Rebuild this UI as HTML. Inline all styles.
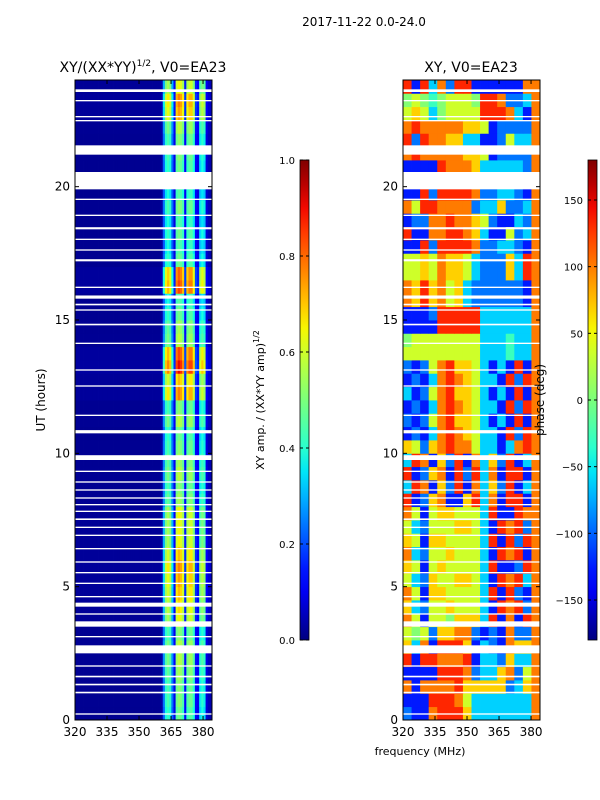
<!DOCTYPE html>
<html><head><meta charset="utf-8">
<style>
body{margin:0;background:#fff;}
svg{display:block;font-family:"DejaVu Sans","Liberation Sans",sans-serif;}
</style></head>
<body>
<svg id="fig" width="600" height="800" viewBox="0 0 600 800" xmlns="http://www.w3.org/2000/svg">
<defs>
<linearGradient id="jetv" x1="0" y1="1" x2="0" y2="0"></linearGradient>
</defs>
<text x="364" y="26" font-size="12" text-anchor="middle">2017-11-22 0.0-24.0</text>
<text x="143" y="72" font-size="14" text-anchor="middle">XY/(XX*YY)<tspan font-size="9" dy="-6">1/2</tspan><tspan dy="6">, V0=EA23</tspan></text>
<text x="471" y="72" font-size="14" text-anchor="middle">XY, V0=EA23</text>
<g id="leftPanel"></g>
<g id="rightPanel"></g>
<g id="axes"></g>
<text transform="translate(45,400) rotate(-90)" font-size="12" text-anchor="middle">UT (hours)</text>
<text x="420" y="755" font-size="11" text-anchor="middle">frequency (MHz)</text>
<text transform="translate(264,400) rotate(-90)" font-size="11" text-anchor="middle">XY amp. / (XX*YY amp)<tspan font-size="8" dy="-5">1/2</tspan></text>
<text transform="translate(544,400) rotate(-90)" font-size="12" text-anchor="middle">phase (deg)</text>
</svg>
<script>
// ---- data ----
const ampColProfile = [
0.02,0.02,0.02,0.02,0.02,0.02,0.02,0.02,0.02,0.02,
0.02,0.02,0.02,0.02,0.02,0.02,0.02,0.02,0.02,0.02,
0.02,0.02,0.02,0.02,0.02,0.02,0.02,0.02,0.02,0.02,
0.02,0.02,0.02,0.02,0.02,0.02,0.02,0.02,0.02,0.02,
0.04,0.3,0.5,0.55,0.5,0.3,0.12,0.6,0.65,0.62,
0.55,0.15,0.55,0.6,0.6,0.5,0.15,0.12,0.45,0.5,
0.45,0.1,0.06,0.05];
const ampRowGain = [
0.75,0.8,0.8,0.85,0.9,0.9,0.8,1.0,1.05,1.1,
1.15,1.2,1.1,1.0,1.0,1.0,0.85,0.8,0.9,0.85,
0.8,0.75,0.9,0.8,1.2,1.1,1.4,1.3,0.9,0.85,
0.75,0.7,1.3,1.25,0.75,0.7,0.75,0.7,0.8,0.7,
0.7,0.75,0.8,0.8,0.9,1.15,1.2,1.0];
const phaseRows = [
"2118999733333338","1119998633333338","8188889777772378","1111999823378268",
"9199888913327338","7381999713218778","6562778821218228","8616657773918198",
"7326676663198928","8617766663919218","6327667763198938","7616766663911298",
"8326676663198918","7617766663919298","6326667763198928","8616776663911988",
"9127811793819918","3981729183729138","9127819293819918","3981729183729138",
"7627898863313898","1213898763319298","2126897763131918","1213898763319298",
"3126897763131918","1213898763319298","2126897763131918","6666666663334338",
"5666666663334338","1111999993333338","1112999993333338","8797867322222218",
"8797867322222218","6676877632227398","6676877632227398","1192999982233218",
"9118899873116238","1228898876211328","8699888823372238","1192999982233218",
"1111988873333328","1111988873333328","8988888776122228","9298877331126338",
"8988888776122228","6763566669998318","5654566659982238","9193829911111188"];
const gapStarts = [23.55,23.2,22.6,22.45,21.2,19.9,19.5,18.9,18.4,18.0,17.6,17.2,16.2,15.8,15.55,15.35,14.8,14.1,13.1,12.5,11.4,10.75,9.75,9.3,8.9,8.6,8.3,8.05,7.8,7.5,7.2,6.9,6.4,5.9,5.5,5.1,4.6,4.25,3.95,3.5,3.1,2.5,2.0,1.6,1.3,1.0,0.2];
const gapLengths = [0.1,0.05,0.05,0.05,0.35,0.65,0.05,0.05,0.08,0.05,0.05,0.08,0.05,0.12,0.06,0.05,0.06,0.05,0.05,0.05,0.05,0.12,0.18,0.05,0.05,0.05,0.05,0.05,0.05,0.06,0.05,0.05,0.05,0.05,0.05,0.05,0.05,0.15,0.05,0.2,0.05,0.3,0.05,0.06,0.06,0.06,0.05];
const timeTicks = [0,5,10,15,20];
const freqTicks = [320,335,350,365,380];
const ampTicks = [0.0,0.2,0.4,0.6,0.8,1.0];
const phaseTicks = [-150,-100,-50,0,50,100,150];

// ---- helpers ----
const NS="http://www.w3.org/2000/svg";
const svg=document.getElementById('fig');
function jet(v){v=Math.max(0,Math.min(1,v));
 function seg(pts){for(let i=1;i<pts.length;i++){if(v<=pts[i][0]){const a=pts[i-1],b=pts[i];return a[1]+(b[1]-a[1])*(v-a[0])/(b[0]-a[0]);}}return pts[pts.length-1][1];}
 const r=seg([[0,0],[0.35,0],[0.66,1],[0.89,1],[1,0.5]]);
 const g=seg([[0,0],[0.125,0],[0.375,1],[0.64,1],[0.91,0],[1,0]]);
 const b=seg([[0,0.5],[0.11,1],[0.34,1],[0.65,0],[1,0]]);
 return `rgb(${Math.round(r*255)},${Math.round(g*255)},${Math.round(b*255)})`;}
function mk(tag,attrs,parent){const e=document.createElementNS(NS,tag);for(const k in attrs)e.setAttribute(k,attrs[k]);(parent||svg).appendChild(e);return e;}
const Y0=720,Y1=80,T0=0,T1=24;
const yScale=t=>Y0+(t-T0)*(Y1-Y0)/(T1-T0);
const F0=320,F1=384.2;
const xL=f=>75+(f-F0)*(212-75)/(F1-F0);
const xR=f=>403+(f-F0)*(540-403)/(F1-F0);

const grad=document.getElementById('jetv');
for(let i=0;i<=20;i++){const s=document.createElementNS(NS,'stop');s.setAttribute('offset',i/20);s.setAttribute('stop-color',jet(i/20));grad.appendChild(s);}

const gL=document.getElementById('leftPanel');
const nR=ampRowGain.length, fStep=(F1-F0)/ampColProfile.length, tStep=24/nR;
for(let r=0;r<nR;r++){for(let c=0;c<ampColProfile.length;c++){
 const v=ampColProfile[c]*ampRowGain[r];
 const x0=xL(F0+c*fStep),x1=xL(F0+(c+1)*fStep),yt=yScale((r+1)*tStep),yb=yScale(r*tStep);
 const e=mk('rect',{x:x0,y:yt,width:x1-x0+0.4,height:yb-yt+0.4,fill:jet(v)},gL);
 
 
}}
const gR=document.getElementById('rightPanel');
const pCols=phaseRows[0].length, pfStep=(F1-F0)/pCols, ptStep=24/phaseRows.length;
for(let r=0;r<phaseRows.length;r++){for(let c=0;c<pCols;c++){
 const v=0.06+parseInt(phaseRows[r][c])*0.09;
 const x0=xR(F0+c*pfStep),x1=xR(F0+(c+1)*pfStep),yt=yScale((r+1)*ptStep),yb=yScale(r*ptStep);
 const e=mk('rect',{x:x0,y:yt,width:x1-x0+0.4,height:yb-yt+0.4,fill:jet(v)},gR);
 
 
}}
for(let i=0;i<gapStarts.length;i++){
 const yt=yScale(gapStarts[i]+gapLengths[i]),yb=yScale(gapStarts[i]);
 const h=Math.max(1.2,yb-yt);
 const a=mk('rect',{x:75,y:yt,width:137,height:h,fill:'#fff'},gL);
 
 
 const b=mk('rect',{x:403,y:yt,width:137,height:h,fill:'#fff'},gR);
 
 
}
const gA=document.getElementById('axes');
function frame(x,name){const e=mk('rect',{x:x,y:80,width:137,height:640,fill:'none',stroke:'#000','stroke-width':1},gA);
 
 }
frame(75,'left-axes-frame');frame(403,'right-axes-frame');
[[75,xL,'left'],[403,xR,'right']].forEach(([x0,xs,side])=>{
 timeTicks.forEach(t=>{const y=yScale(t);
  mk('line',{x1:x0,y1:y,x2:x0+4,y2:y,stroke:'#000'},gA);
  mk('line',{x1:x0+137,y1:y,x2:x0+133,y2:y,stroke:'#000'},gA);
  const l=mk('text',{x:x0-5,y:y+4,'font-size':12,'text-anchor':'end'},gA);l.textContent=t;
  
  });
 freqTicks.forEach(f=>{const x=xs(f);
  mk('line',{x1:x,y1:720,x2:x,y2:716,stroke:'#000'},gA);
  mk('line',{x1:x,y1:80,x2:x,y2:84,stroke:'#000'},gA);
  const l=mk('text',{x:x,y:736,'font-size':12,'text-anchor':'middle'},gA);l.textContent=f;
  
  });
});
function cbar(x,ticks,lo,hi,name){
 const e=mk('rect',{x:x,y:160,width:9,height:480,fill:'url(#jetv)',stroke:'#000','stroke-width':0.8},gA);
 
 
 ticks.forEach(v=>{const y=640-(v-lo)/(hi-lo)*480;
  mk('line',{x1:x,y1:y,x2:x+3,y2:y,stroke:'#000'},gA);
  mk('line',{x1:x+9,y1:y,x2:x+6,y2:y,stroke:'#000'},gA);
  const l=mk('text',{x:x-5,y:y+4,'font-size':10,'text-anchor':'end'},gA);
  l.textContent=(lo===0?v.toFixed(1):(v<0?'\u2212'+(-v):String(v)));
  
  });
}
cbar(300,ampTicks,0,1,'amp-colorbar');
cbar(588,phaseTicks,-180,180,'phase-colorbar');
</script>
</body></html>
